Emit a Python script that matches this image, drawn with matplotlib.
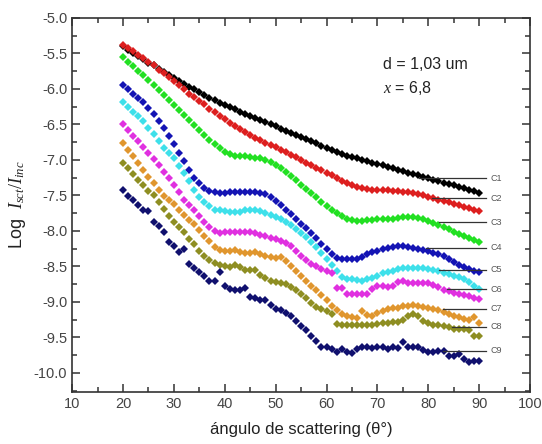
import numpy as np
import matplotlib
matplotlib.use("Agg")
import matplotlib.pyplot as plt
from matplotlib.ticker import MultipleLocator, FormatStrFormatter

plt.rcParams['font.family'] = ['Liberation Sans', 'DejaVu Sans']
plt.rcParams['mathtext.fontset'] = 'custom'
plt.rcParams['mathtext.it'] = 'Liberation Serif:italic'
plt.rcParams['mathtext.rm'] = 'Liberation Serif'

angle = np.arange(20, 91)

c1 = [-5.40, -5.45, -5.49, -5.54, -5.58, -5.63, -5.67, -5.72, -5.76, -5.81,
      -5.85, -5.89, -5.93, -5.97, -6.01, -6.05, -6.09, -6.13, -6.16, -6.20,
      -6.23, -6.26, -6.29, -6.32, -6.35, -6.38, -6.41, -6.44, -6.47, -6.50,
      -6.53, -6.56, -6.59, -6.62, -6.65, -6.68, -6.71, -6.74, -6.77, -6.80,
      -6.83, -6.86, -6.89, -6.92, -6.94, -6.96, -6.98, -7.00, -7.02, -7.04,
      -7.06, -7.08, -7.10, -7.12, -7.14, -7.16, -7.18, -7.20, -7.22, -7.24,
      -7.26, -7.28, -7.30, -7.32, -7.34, -7.36, -7.38, -7.40, -7.42, -7.44,
      -7.47]
c2 = [-5.38, -5.42, -5.47, -5.52, -5.57, -5.62, -5.67, -5.73, -5.78, -5.83,
      -5.89, -5.95, -6.01, -6.07, -6.12, -6.17, -6.22, -6.28, -6.33, -6.38,
      -6.43, -6.48, -6.53, -6.57, -6.61, -6.65, -6.69, -6.72, -6.76, -6.79,
      -6.82, -6.86, -6.89, -6.93, -6.96, -7.00, -7.04, -7.07, -7.11, -7.15,
      -7.18, -7.22, -7.26, -7.30, -7.33, -7.36, -7.38, -7.40, -7.41, -7.42,
      -7.42, -7.43, -7.43, -7.44, -7.44, -7.45, -7.46, -7.47, -7.48, -7.50,
      -7.52, -7.54, -7.56, -7.58, -7.60, -7.62, -7.64, -7.66, -7.68, -7.70,
      -7.72]
c3 = [-5.55, -5.62, -5.68, -5.75, -5.81, -5.88, -5.95, -6.02, -6.09, -6.16,
      -6.23, -6.30, -6.37, -6.44, -6.51, -6.58, -6.65, -6.72, -6.78, -6.84,
      -6.89, -6.92, -6.94, -6.95, -6.95, -6.96, -6.97, -6.98, -7.00, -7.03,
      -7.07, -7.12, -7.17, -7.23, -7.29, -7.35, -7.41, -7.47, -7.53, -7.59,
      -7.65, -7.70, -7.75, -7.79, -7.83, -7.85, -7.86, -7.86, -7.85, -7.85,
      -7.84, -7.84, -7.83, -7.83, -7.82, -7.81, -7.80, -7.81, -7.82, -7.84,
      -7.86, -7.89, -7.92, -7.95, -7.98, -8.01, -8.04, -8.07, -8.10, -8.13,
      -8.16]
c4 = [-5.94, -6.00, -6.07, -6.13, -6.19, -6.27, -6.35, -6.45, -6.55, -6.66,
      -6.78, -6.90, -7.02, -7.14, -7.25, -7.33, -7.40, -7.44, -7.46, -7.47,
      -7.47, -7.46, -7.46, -7.45, -7.45, -7.46, -7.46, -7.47, -7.48, -7.52,
      -7.58, -7.64, -7.70, -7.76, -7.83, -7.90, -7.96, -8.03, -8.10, -8.18,
      -8.26, -8.33, -8.38, -8.40, -8.40, -8.40, -8.39, -8.37, -8.33, -8.30,
      -8.28, -8.26, -8.24, -8.23, -8.22, -8.22, -8.23, -8.24, -8.25, -8.27,
      -8.29, -8.31, -8.33, -8.36, -8.40, -8.44, -8.48, -8.51, -8.54, -8.56,
      -8.58]
c5 = [-6.18, -6.25, -6.32, -6.39, -6.46, -6.55, -6.64, -6.73, -6.83, -6.90,
      -6.98, -7.09, -7.19, -7.30, -7.42, -7.52, -7.60, -7.65, -7.70, -7.71,
      -7.72, -7.73, -7.74, -7.73, -7.71, -7.70, -7.70, -7.72, -7.75, -7.78,
      -7.81, -7.84, -7.88, -7.92, -7.97, -8.03, -8.09, -8.16, -8.23, -8.31,
      -8.39, -8.48, -8.57, -8.65, -8.68, -8.68, -8.69, -8.70, -8.68, -8.66,
      -8.63, -8.60, -8.58, -8.56, -8.54, -8.53, -8.52, -8.52, -8.52, -8.53,
      -8.54, -8.55, -8.57, -8.59, -8.61, -8.63, -8.65, -8.68, -8.72, -8.77,
      -8.82]
c6 = [-6.50, -6.58, -6.66, -6.74, -6.82, -6.90, -6.99, -7.08, -7.17, -7.26,
      -7.36, -7.46, -7.56, -7.63, -7.70, -7.79, -7.88, -7.95, -8.00, -8.03,
      -8.02, -8.02, -8.02, -8.02, -8.02, -8.02, -8.03, -8.06, -8.07, -8.10,
      -8.12, -8.15, -8.17, -8.22, -8.29, -8.36, -8.41, -8.46, -8.50, -8.54,
      -8.57, -8.60, -8.81, -8.80, -8.89, -8.89, -8.89, -8.89, -8.89, -8.82,
      -8.78, -8.78, -8.79, -8.78, -8.72, -8.71, -8.73, -8.74, -8.74, -8.74,
      -8.74, -8.76, -8.79, -8.83, -8.85, -8.87, -8.89, -8.91, -8.92, -8.94,
      -8.96]
c7 = [-6.77, -6.86, -6.95, -7.04, -7.14, -7.24, -7.33, -7.43, -7.51, -7.57,
      -7.62, -7.70, -7.78, -7.85, -7.91, -7.99, -8.07, -8.15, -8.23, -8.27,
      -8.29, -8.28, -8.27, -8.30, -8.31, -8.31, -8.30, -8.33, -8.35, -8.37,
      -8.38, -8.37, -8.42, -8.50, -8.57, -8.64, -8.71, -8.77, -8.84, -8.91,
      -8.98, -9.06, -9.12, -9.17, -9.20, -9.22, -9.23, -9.13, -9.18, -9.20,
      -9.16, -9.13, -9.10, -9.09, -9.08, -9.06, -9.06, -9.05, -9.06, -9.07,
      -9.09, -9.10, -9.12, -9.14, -9.17, -9.20, -9.22, -9.24, -9.25, -9.22,
      -9.30]
c8 = [-7.05, -7.12, -7.20, -7.28, -7.36, -7.44, -7.50, -7.60, -7.69, -7.79,
      -7.87, -7.95, -8.02, -8.11, -8.19, -8.28, -8.36, -8.41, -8.45, -8.48,
      -8.50, -8.51, -8.48, -8.51, -8.55, -8.55, -8.55, -8.62, -8.66, -8.70,
      -8.72, -8.74, -8.75, -8.79, -8.84, -8.89, -8.95, -9.01, -9.07, -9.10,
      -9.13, -9.17, -9.31, -9.32, -9.33, -9.33, -9.33, -9.32, -9.33, -9.32,
      -9.31, -9.30, -9.30, -9.29, -9.28, -9.26, -9.20, -9.17, -9.20, -9.27,
      -9.30, -9.32, -9.33, -9.34, -9.35, -9.38, -9.38, -9.38, -9.40, -9.48,
      -9.48]
c9 = [-7.42, -7.51, -7.56, -7.63, -7.70, -7.72, -7.87, -7.93, -8.02, -8.16,
      -8.22, -8.30, -8.26, -8.47, -8.52, -8.58, -8.64, -8.70, -8.70, -8.58,
      -8.78, -8.82, -8.83, -8.83, -8.80, -8.93, -8.94, -8.97, -8.97, -9.05,
      -9.10, -9.12, -9.16, -9.20, -9.27, -9.34, -9.40, -9.48, -9.55, -9.63,
      -9.64, -9.66, -9.70, -9.67, -9.70, -9.72, -9.66, -9.64, -9.64, -9.65,
      -9.64, -9.64, -9.66, -9.64, -9.65, -9.56, -9.63, -9.63, -9.63, -9.68,
      -9.70, -9.70, -9.69, -9.69, -9.76, -9.76, -9.74, -9.80, -9.85, -9.83,
      -9.83]

series = [c1, c2, c3, c4, c5, c6, c7, c8, c9]
names = ['C1', 'C2', 'C3', 'C4', 'C5', 'C6', 'C7', 'C8', 'C9']
colors = ['#000000', '#dd1f1f', '#22e022', '#1414b4', '#3ee0ea',
          '#e030e0', '#e0962e', '#8e8e22', '#10106e']

# label leader lines: y level and where the line starts
label_y = [-7.26, -7.54, -7.88, -8.24, -8.55, -8.82, -9.10, -9.35, -9.69]
label_x0 = [78.2, 80.8, 82.2, 79.6, 82.2, 83.7, 82.8, 84.7, 82.8]

fig = plt.figure(figsize=(5.42, 4.44), dpi=100)
ax = fig.add_axes([0.133, 0.117, 0.845, 0.843])

for vals, col in zip(series, colors):
    ax.plot(angle, vals, linestyle='none', marker='D', markersize=3.8,
            color=col, markeredgewidth=0)

for name, ly, lx in zip(names, label_y, label_x0):
    ax.plot([lx, 91.4], [ly, ly], color='#333333', lw=0.9)
    ax.text(92.3, ly, name, fontsize=6.5, color='#555555', va='center')

ax.text(71, -5.66, 'd = 1,03 um', fontsize=11.5, va='center', color='#222222')
ax.text(71, -5.99, r'$\mathit{x}$ = 6,8', fontsize=11.5, va='center', color='#222222')

ax.set_xlim(10, 100)
ax.set_ylim(-10.27, -5.0)
ax.xaxis.set_major_locator(MultipleLocator(10))
ax.xaxis.set_minor_locator(MultipleLocator(5))
ax.yaxis.set_major_locator(MultipleLocator(0.5))
ax.yaxis.set_minor_locator(MultipleLocator(0.25))
ax.yaxis.set_major_formatter(FormatStrFormatter('%.1f'))
ax.tick_params(which='both', direction='in', top=True, right=True,
               labelsize=10.5, color='#333333', labelcolor='#444444', width=1.1)
ax.tick_params(which='major', length=6)
ax.tick_params(which='minor', length=3.5)
for s in ax.spines.values():
    s.set_linewidth(1.2)
    s.set_color('#333333')

ax.set_xlabel('ángulo de scattering (θ°)', fontsize=12, labelpad=8, color='#222222')
ax.set_ylabel(r'Log  $I_{sct}/I_{inc}$', fontsize=13, labelpad=4, color='#222222')

fig.savefig('out.png', dpi=100)
